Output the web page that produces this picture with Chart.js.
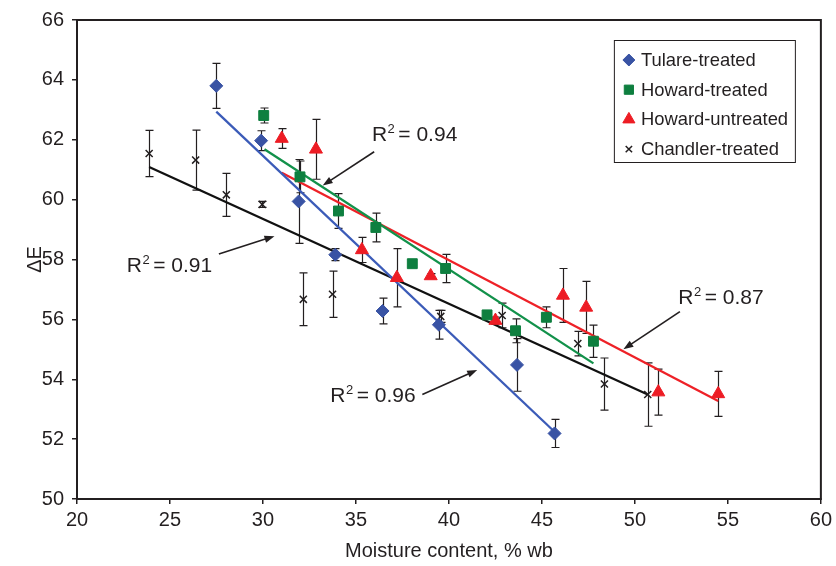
<!DOCTYPE html>
<html><head><meta charset="utf-8">
<script src="https://cdn.jsdelivr.net/npm/chart.js@4"></script>
<style>html,body{margin:0;padding:0;background:#fff}#wrap{width:836px;height:566px;position:relative}</style>
</head><body><div id="wrap"><canvas id="c"></canvas></div>
<script>
// ---- data ----
const seriesNames = ['Tulare-treated', 'Howard-treated', 'Howard-untreated', 'Chandler-treated'];

const tulareX   = [27.49, 29.90, 31.92, 33.89, 36.43, 39.46, 43.66, 45.68];
const tulareY   = [63.80, 61.97, 59.94, 58.16, 56.28, 55.82, 54.48, 52.19];
const tulareErr = [0.75, 0.33, 1.40, 0.20, 0.43, 0.48, 0.88, 0.47];

const howardTX   = [30.04, 31.99, 34.06, 36.07, 38.03, 39.82, 42.05, 43.58, 45.24, 47.77];
const howardTY   = [62.81, 60.76, 59.62, 59.07, 57.86, 57.70, 56.15, 55.62, 56.07, 55.27];
const howardTErr = [0.25, 0.53, 0.58, 0.48, 0.08, 0.47, 0.12, 0.40, 0.35, 0.54];

const howardUX   = [31.01, 32.85, 35.32, 37.20, 39.02, 42.50, 46.13, 47.38, 51.26, 54.48];
const howardUY   = [62.04, 61.68, 58.32, 57.39, 57.45, 55.96, 56.80, 56.40, 53.57, 53.51];
const howardUErr = [0.33, 1.00, 0.42, 0.97, 0.08, 0.12, 0.90, 0.87, 0.77, 0.75];

const chandlerX   = [23.88, 26.38, 28.03, 29.96, 32.17, 33.74, 39.56, 42.86, 46.93, 48.36, 50.69];
const chandlerY   = [61.54, 61.32, 60.16, 59.84, 56.67, 56.84, 56.10, 56.13, 55.19, 53.84, 53.49];
const chandlerErr = [0.77, 1.00, 0.72, 0.10, 0.88, 0.77, 0.20, 0.41, 0.41, 0.87, 1.06];

// linear fit end points
const tulareFitX = [27.49, 45.72],  tulareFitY = [62.94, 52.22];
const howardTFitX = [30.08, 47.77], howardTFitY = [61.68, 54.53];
const howardUFitX = [31.01, 54.48], howardUFitY = [60.90, 53.27];
const chandlerFitX = [23.88, 50.69], chandlerFitY = [61.09, 53.49];

const r2Values = ['0.91', '0.94', '0.96', '0.87'];

const xTicks = [20, 25, 30, 35, 40, 45, 50, 55, 60];
const yTicks = [50, 52, 54, 56, 58, 60, 62, 64, 66];

// ---- build ----
const INK = '#231f20';
const FONT = "'Liberation Sans', Arial, sans-serif";
const zip = (xs, ys) => xs.map((x, i) => ({x, y: ys[i]}));

const pointSets = [
  {label: seriesNames[0], data: zip(tulareX, tulareY), err: tulareErr, pointStyle: 'rectRot', pointRadius: 6.5, backgroundColor: '#3953a4', borderColor: '#3953a4'},
  {label: seriesNames[1], data: zip(howardTX, howardTY), err: howardTErr, pointStyle: 'rect', pointRadius: 7, backgroundColor: '#0e7f3f', borderColor: '#0e7f3f'},
  {label: seriesNames[2], data: zip(howardUX, howardUY), err: howardUErr, pointStyle: 'triangle', pointRadius: 7.5, backgroundColor: '#ed1c24', borderColor: '#ed1c24'},
  {label: seriesNames[3], data: zip(chandlerX, chandlerY), err: chandlerErr, pointStyle: 'crossRot', pointRadius: 5, backgroundColor: INK, borderColor: INK, pointBorderWidth: 1.5}
];
pointSets.forEach(d => { d.showLine = false; d.borderWidth = 1; d.isPoints = true; d.order = 1; });

const fitSets = [
  {data: zip(tulareFitX, tulareFitY), borderColor: '#3b5bb8'},
  {data: zip(howardTFitX, howardTFitY), borderColor: '#12914a'},
  {data: zip(howardUFitX, howardUFitY), borderColor: '#ee2127'},
  {data: zip(chandlerFitX, chandlerFitY), borderColor: '#111111'}
].map(d => Object.assign(d, {showLine: true, pointRadius: 0, borderWidth: 2.3, fill: false, order: 2, isFit: true}));

// annotation placement (data coords)
const annPlace = [
  {tx: 22.68, ty: 57.59, a: [27.63, 58.18, 30.62, 58.78]},
  {tx: 35.86, ty: 61.95, a: [35.98, 61.60, 33.21, 60.47]},
  {tx: 33.62, ty: 53.23, a: [38.57, 53.49, 41.52, 54.31]},
  {tx: 52.33, ty: 56.53, a: [52.42, 56.26, 49.38, 55.00]}
];

const errorBars = {
  id: 'errorBars',
  beforeDatasetsDraw(chart) {
    const {ctx, scales: {x, y}} = chart;
    ctx.save();
    ctx.strokeStyle = INK; ctx.lineWidth = 1.2;
    chart.data.datasets.forEach(ds => {
      if (!ds.err) return;
      ds.data.forEach((p, i) => {
        const e = ds.err[i];
        const px = Math.round(x.getPixelForValue(p.x)) + 0.5;
        const y1 = y.getPixelForValue(p.y + e), y2 = y.getPixelForValue(p.y - e);
        ctx.beginPath();
        ctx.moveTo(px, y1); ctx.lineTo(px, y2);
        ctx.moveTo(px - 4, y1); ctx.lineTo(px + 4, y1);
        ctx.moveTo(px - 4, y2); ctx.lineTo(px + 4, y2);
        ctx.stroke();
      });
    });
    ctx.restore();
  }
};

const decor = {
  id: 'decor',
  afterDraw(chart) {
    const {ctx, chartArea: ca, scales: {x, y}} = chart;
    ctx.save();
    // frame
    ctx.strokeStyle = INK; ctx.lineWidth = 2;
    ctx.strokeRect(ca.left, ca.top, ca.right - ca.left, ca.bottom - ca.top);
    // R^2 annotations
    ctx.fillStyle = INK;
    ctx.textBaseline = 'alphabetic';
    annPlace.forEach((pl, i) => {
      let tx = x.getPixelForValue(pl.tx), ty = y.getPixelForValue(pl.ty);
      ctx.font = '21px ' + FONT;
      ctx.fillText('R', tx, ty);
      let w = ctx.measureText('R').width;
      ctx.font = '13px ' + FONT;
      ctx.fillText('2', tx + w + 0.5, ty - 8);
      w += ctx.measureText('2').width + 1;
      ctx.font = '21px ' + FONT;
      ctx.fillText('= ' + r2Values[i], tx + w + 3, ty);
      // arrow
      const x1 = x.getPixelForValue(pl.a[0]), y1 = y.getPixelForValue(pl.a[1]);
      const x2 = x.getPixelForValue(pl.a[2]), y2 = y.getPixelForValue(pl.a[3]);
      const ang = Math.atan2(y2 - y1, x2 - x1);
      const L = 10, H = 3.6;
      ctx.strokeStyle = INK; ctx.lineWidth = 1.6;
      ctx.beginPath(); ctx.moveTo(x1, y1);
      ctx.lineTo(x2 - Math.cos(ang) * L * 0.8, y2 - Math.sin(ang) * L * 0.8); ctx.stroke();
      ctx.beginPath();
      ctx.moveTo(x2, y2);
      ctx.lineTo(x2 - Math.cos(ang) * L - Math.sin(ang) * H, y2 - Math.sin(ang) * L + Math.cos(ang) * H);
      ctx.lineTo(x2 - Math.cos(ang) * L + Math.sin(ang) * H, y2 - Math.sin(ang) * L - Math.cos(ang) * H);
      ctx.closePath(); ctx.fill();
    });
    // legend
    const bx = ca.right - 207, by = ca.top + 20, bw = 181, bh = 122;
    ctx.fillStyle = '#fff';
    ctx.fillRect(bx, by, bw, bh);
    ctx.strokeStyle = INK; ctx.lineWidth = 1;
    ctx.strokeRect(bx + 0.5, by + 0.5, bw, bh);
    ctx.font = '18.4px ' + FONT;
    ctx.textBaseline = 'middle';
    chart.data.datasets.filter(d => d.isPoints).forEach((d, i) => {
      const cy = by + 20 + i * 29.7;
      ctx.fillStyle = d.backgroundColor; ctx.strokeStyle = d.borderColor;
      ctx.lineWidth = d.pointBorderWidth || 1;
      const r = d.pointStyle === 'crossRot' ? 4.5 : (d.pointStyle === 'triangle' ? 7 : (d.pointStyle === 'rect' ? 6.5 : 6));
      Chart.helpers.drawPoint(ctx, {pointStyle: d.pointStyle, radius: r, rotation: 0, borderWidth: ctx.lineWidth}, bx + 15, cy);
      ctx.fillStyle = INK;
      ctx.fillText(d.label, bx + 27, cy + 1);
    });
    ctx.restore();
  }
};

new Chart(document.getElementById('c'), {
  type: 'scatter',
  data: {datasets: [...pointSets, ...fitSets]},
  options: {
    responsive: true, maintainAspectRatio: false, animation: false,
    layout: {padding: {top: 14, right: 13, left: 0, bottom: 0}},
    plugins: {legend: {display: false}, tooltip: {enabled: false}},
    elements: {point: {borderWidth: 1}},
    scales: {
      x: {
        type: 'linear', min: xTicks[0], max: xTicks[xTicks.length - 1],
        afterBuildTicks: s => { s.ticks = xTicks.map(v => ({value: v})); },
        afterFit: s => { s.height = 67; },
        grid: {drawOnChartArea: false, drawTicks: true, tickLength: 5, color: INK, lineWidth: 1.5},
        border: {display: true, color: INK, width: 2},
        ticks: {color: INK, font: {family: FONT, size: 20}, padding: 4, maxRotation: 0},
        title: {display: true, text: 'Moisture content, % wb', color: INK, font: {family: FONT, size: 20}, padding: {top: 0, bottom: 3}}
      },
      y: {
        type: 'linear', min: yTicks[0], max: yTicks[yTicks.length - 1],
        afterBuildTicks: s => { s.ticks = yTicks.map(v => ({value: v})); },
        afterFit: s => { s.width = 77; },
        grid: {drawOnChartArea: false, drawTicks: true, tickLength: 5, color: INK, lineWidth: 1.5},
        border: {display: true, color: INK, width: 2},
        ticks: {color: INK, font: {family: FONT, size: 20}, padding: 8},
        title: {display: true, text: 'ΔE', color: INK, font: {family: FONT, size: 20}, padding: {top: 23, bottom: 0}}
      }
    }
  },
  plugins: [errorBars, decor]
});
</script>
</body></html>
